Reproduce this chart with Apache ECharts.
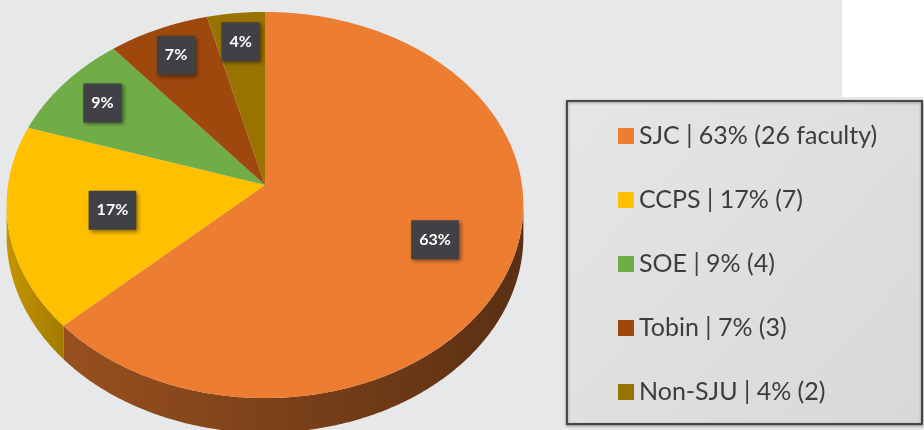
<!DOCTYPE html>
<html>
<head>
<meta charset="utf-8">
<script src="https://cdn.jsdelivr.net/npm/echarts@6/dist/echarts.min.js"></script>
<style>
  html, body { margin: 0; padding: 0; background: #e7e8ea; }
  #chart { width: 924px; height: 430px; }
</style>
</head>
<body>
<div id="chart"></div>
<script>
// data
var categories = ['SJC', 'CCPS', 'SOE', 'Tobin', 'Non-SJU'];
var shares = [63, 17, 9, 7, 4];
var faculty = [26, 7, 4, 3, 2];
var colors = ['#ed7d31', '#ffc000', '#70ad47', '#9e480e', '#997300'];

// layout of the tilted pie (perspective projection of a flat disc)
var CX = 265, CY = 185;      // where the slices meet
var A = 257, B = 191;        // horizontal / depth radius
var K = 0.1036;              // perspective strength
var DEPTH = 31;              // wall height
var labelRadius = [0.7, 0.6, 0.8, 0.82, 0.82];

var total = shares.reduce(function (a, b) { return a + b; }, 0);

function pt(theta, f, drop) {
    var X = f * Math.sin(theta);
    var Z = -f * Math.cos(theta);
    var s = 1 / (1 - K * Z);
    return [CX + A * X * s, CY + B * Z * s + (drop || 0) * s];
}

function arc(a, b, drop) {
    var pts = [];
    var n = Math.max(2, Math.ceil(Math.abs(b - a) / 0.01));
    for (var j = 0; j <= n; j++) {
        pts.push(pt(a + (b - a) * j / n, 1, drop));
    }
    return pts;
}

function shade(hex, f) {
    var r = parseInt(hex.slice(1, 3), 16), g = parseInt(hex.slice(3, 5), 16), b = parseInt(hex.slice(5, 7), 16);
    return 'rgb(' + Math.round(r * f) + ',' + Math.round(g * f) + ',' + Math.round(b * f) + ')';
}

var TR = Math.acos(-K);               // rightmost visible rim point
var TL = 2 * Math.PI - Math.acos(-K); // leftmost visible rim point

function light(theta) {
    var t = (theta - TR) / (TL - TR);
    return 0.38 + 0.39 * Math.pow(Math.max(0, Math.min(1, t)), 1.6);
}

function makeRender(i) {
    return function (params, api) {
        var start = api.value(0) / total * 2 * Math.PI;
        var end = (api.value(0) + api.value(1)) / total * 2 * Math.PI;
        var color = colors[i];
        var children = [];

        // front wall
        var lo = Math.max(start, TR), hi = Math.min(end, TL);
        if (lo < hi) {
            var upper = arc(lo, hi, 0);
            var lower = arc(hi, lo, DEPTH);
            var xr = pt(lo, 1)[0], xl = pt(hi, 1)[0];
            children.push({
                type: 'polygon',
                shape: { points: upper.concat(lower) },
                style: {
                    fill: {
                        type: 'linear', x: xl, y: 0, x2: xr, y2: 0, global: true,
                        colorStops: [
                            { offset: 0, color: shade(color, light(hi)) },
                            { offset: 1, color: shade(color, light(lo)) }
                        ]
                    }
                }
            });
        }

        // top face
        children.push({
            type: 'polygon',
            shape: { points: [[CX, CY]].concat(arc(start, end, 0)) },
            style: { fill: color }
        });

        // data label
        var mid = (start + end) / 2;
        var p = pt(mid, labelRadius[i]);
        children.push({
            type: 'text',
            x: p[0], y: p[1],
            z2: 10,
            style: {
                text: api.value(1) + '%',
                fill: '#ffffff',
                font: 'bold 16px Lato',
                align: 'center',
                verticalAlign: 'middle',
                backgroundColor: '#3f4144',
                padding: [12, 8, 11, 8],
                shadowBlur: 4,
                shadowColor: 'rgba(0,0,0,0.45)',
                shadowOffsetX: 2,
                shadowOffsetY: 2
            }
        });

        return { type: 'group', children: children };
    };
}

var legendNames = categories.map(function (c, i) {
    return c + ' | ' + shares[i] + '% (' + faculty[i] + (i === 0 ? ' faculty)' : ')');
});

var series = categories.map(function (c, i) {
    var before = 0;
    for (var j = 0; j < i; j++) before += shares[j];
    return {
        name: legendNames[i],
        type: 'custom',
        coordinateSystem: 'none',
        silent: true,
        animation: false,
        itemStyle: { color: colors[i] },
        data: [[before, shares[i]]],
        renderItem: makeRender(i)
    };
});

var chart = echarts.init(document.getElementById('chart'));
chart.setOption({
    backgroundColor: '#e7e8ea',
    animation: false,
    graphic: [
        {
            type: 'rect',
            z: 0,
            shape: { x: 842, y: 0, width: 82, height: 97 },
            style: { fill: '#ffffff' }
        },
        {
            type: 'rect',
            z: 0,
            shape: { x: 567, y: 101, width: 355, height: 323 },
            style: {
                fill: {
                    type: 'linear', x: 0, y: 0, x2: 1, y2: 1,
                    colorStops: [
                        { offset: 0, color: '#e6e6e6' },
                        { offset: 1, color: '#d8d8d8' }
                    ]
                },
                stroke: '#474747',
                lineWidth: 2,
                shadowBlur: 3,
                shadowColor: 'rgba(0,0,0,0.35)',
                shadowOffsetY: 1
            }
        }
    ],
    legend: {
        orient: 'vertical',
        left: 613,
        top: 117,
        icon: 'rect',
        itemWidth: 16,
        itemHeight: 16,
        itemGap: 36,
        selectedMode: false,
        textStyle: {
            fontFamily: 'Lato',
            fontSize: 25,
            lineHeight: 28,
            color: '#3d3d3d'
        },
        data: legendNames
    },
    series: series
});
</script>
</body>
</html>
